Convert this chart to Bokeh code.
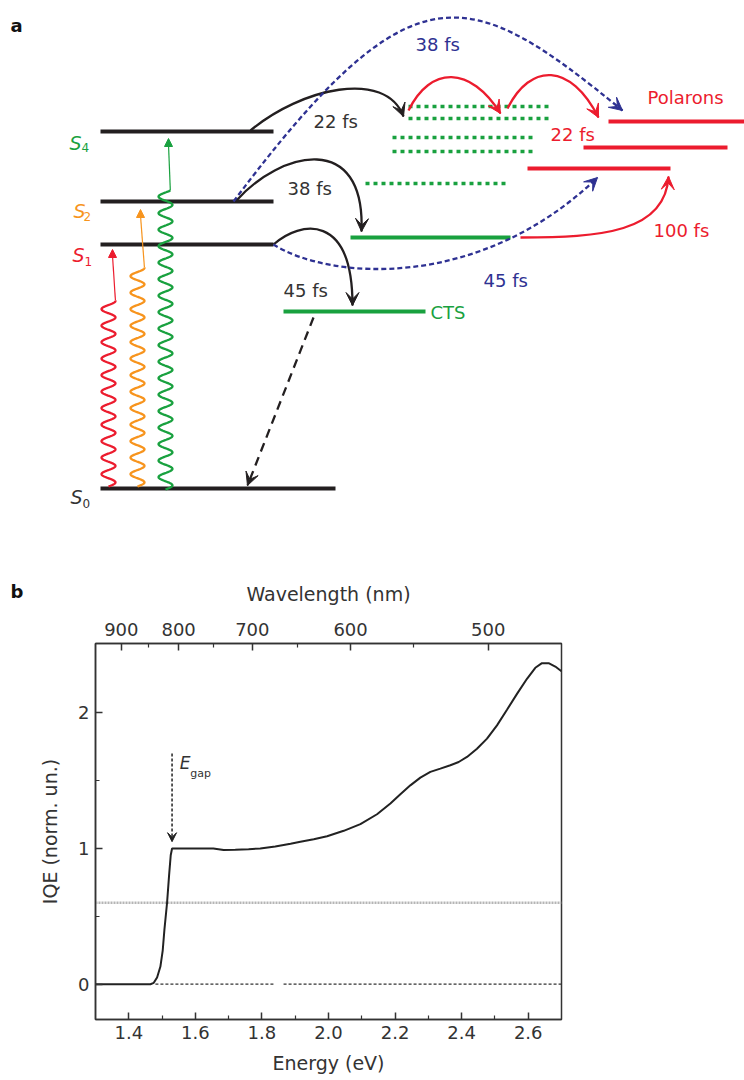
import numpy as np
from bokeh.plotting import figure
from bokeh.models import (Range1d, LinearAxis, FixedTicker, CustomJSTickFormatter,
                          Arrow, VeeHead, NormalHead)
from bokeh.core.properties import value
from bokeh.embed import file_html
from bokeh.resources import INLINE

FONT = "DejaVu Sans"
BLACK = "#231f20"
GREEN = "#19a13f"
RED = "#ec1c2e"
ORANGE = "#f7941d"
NAVY = "#2e3192"
TXT = "#333333"

# ---------------- Panel a: energy-level diagram (pixel units) ----------------
level_sub = ["0", "1", "2", "4"]
level_y = [488, 244, 201, 131]
level_x0 = [100, 100, 100, 100]
level_x1 = [335, 273, 273, 273]
level_colors = [TXT, RED, ORANGE, GREEN]

cts_y = [237, 311]
cts_x0 = [350, 283]
cts_x1 = [510, 425]

dot_rows_y = [106, 118, 137, 151, 183]
dot_rows_x0 = [408, 408, 392, 392, 365]
dot_rows_x1 = [548, 548, 535, 535, 507]

pol_y = [121, 147, 168]
pol_x0 = [608, 583, 527]
pol_x1 = [744, 727, 670]

# excitation (wavy) arrows: centre x, bottom y, wave top y, arrow tip x, tip y, colour
exc_cx = [108, 137, 165]
exc_yb = [486, 486, 489]
exc_yt = [300, 267, 190]
exc_tipx = [112, 140, 168]
exc_tipy = [249, 209, 138]
exc_col = [RED, ORANGE, GREEN]

# transfer arrows: start, control 0, control 1, end, colour, dash
tr_p0 = [(250, 130), (235, 201), (273, 244), (233, 201), (273, 244), (408, 110), (507, 108), (520, 237)]
tr_c0 = [(300, 88), (280, 150), (300, 220), (413, -39), (330, 280), (430, 65), (530, 62), (600, 237)]
tr_c1 = [(385, 68), (365, 130), (352, 212), (468, -16), (480, 290), (470, 65), (570, 62), (665, 232)]
tr_p3 = [(403, 116), (361, 231), (352, 305), (622, 110), (597, 177), (500, 113), (598, 117), (668, 176)]
tr_col = [BLACK, BLACK, BLACK, NAVY, NAVY, RED, RED, RED]
tr_dash = ["solid", "solid", "solid", "5 3", "5 3", "solid", "solid", "solid"]

# time labels
lab_text = ["22 fs", "38 fs", "45 fs", "38 fs", "45 fs", "22 fs", "100 fs", "Polarons", "CTS"]
lab_x = [313, 287, 283, 415, 483, 550, 653, 647, 430]
lab_y = [121, 188, 290, 44, 280, 134, 230, 97, 312]
lab_col = [TXT, TXT, TXT, NAVY, NAVY, RED, RED, RED, GREEN]

PA_H = 612
pa = figure(width=744, height=PA_H, x_range=Range1d(0, 744), y_range=Range1d(PA_H, 0),
            output_backend="svg", toolbar_location=None, min_border=0,
            x_axis_location=None, y_axis_location=None)
pa.grid.visible = False
pa.outline_line_color = None

# levels
for y, x0, x1 in zip(level_y, level_x0, level_x1):
    pa.line([x0, x1], [y, y], line_color=BLACK, line_width=4)
for y, x0, x1 in zip(cts_y, cts_x0, cts_x1):
    pa.line([x0, x1], [y, y], line_color=GREEN, line_width=4)
for y, x0, x1 in zip(dot_rows_y, dot_rows_x0, dot_rows_x1):
    pa.line([x0, x1], [y, y], line_color=GREEN, line_width=3.5, line_dash="4 4")
for y, x0, x1 in zip(pol_y, pol_x0, pol_x1):
    pa.line([x0, x1], [y, y], line_color=RED, line_width=4)

# wavy excitation arrows
for cx, yb, yt, tx, ty, c in zip(exc_cx, exc_yb, exc_yt, exc_tipx, exc_tipy, exc_col):
    ys = np.linspace(yb, yt, 500)
    xs = cx + 7 * np.sin(2 * np.pi * (yb - ys) / 16.5)
    pa.line(xs, ys, line_color=c, line_width=2.3)
    pa.line([xs[-1], tx], [yt, ty + 6], line_color=c, line_width=1.2)
    pa.add_layout(Arrow(x_start=tx, y_start=ty + 8, x_end=tx, y_end=ty, line_alpha=0,
                        end=NormalHead(size=8, fill_color=c, line_color=c)))

# transfer arrows
for p0, c0, c1, p3, c, d in zip(tr_p0, tr_c0, tr_c1, tr_p3, tr_col, tr_dash):
    pa.bezier(x0=[p0[0]], y0=[p0[1]], cx0=[c0[0]], cy0=[c0[1]], cx1=[c1[0]], cy1=[c1[1]],
              x1=[p3[0]], y1=[p3[1]], line_color=c, line_width=2.3, line_dash=d)
    tx, ty = p3[0] - c1[0], p3[1] - c1[1]
    n = (tx ** 2 + ty ** 2) ** 0.5
    pa.add_layout(Arrow(x_start=p3[0] - 6 * tx / n, y_start=p3[1] - 6 * ty / n,
                        x_end=p3[0], y_end=p3[1], line_alpha=0,
                        end=VeeHead(size=13, fill_color=c, line_color=c)))

# dashed decay of CTS to ground
cts_decay_x = [313, 247]
cts_decay_y = [317, 485]
pa.line(cts_decay_x, cts_decay_y, line_color=BLACK, line_width=2.3, line_dash="9 6")
pa.add_layout(Arrow(x_start=250, y_start=477, x_end=cts_decay_x[1], y_end=cts_decay_y[1],
                    line_alpha=0, end=VeeHead(size=13, fill_color=BLACK, line_color=BLACK)))

# level labels S_n
pa.text(x=[70, 72, 73, 69], y=[496, 254, 210, 142], text=["S"] * 4,
        text_color=level_colors, text_font=value(FONT), text_font_size="19px",
        text_font_style="italic", text_baseline="alphabetic", text_align="left")
pa.text(x=[82, 84, 83, 81], y=[503, 261, 216, 147], text=level_sub,
        text_color=level_colors, text_font=value(FONT), text_font_size="12px",
        text_baseline="alphabetic", text_align="left")

pa.text(x=lab_x, y=lab_y, text=lab_text, text_color=lab_col, text_font=value(FONT),
        text_font_size="18px", text_baseline="middle", text_align="left")
# panel letters and the top-axis title of panel b
pa.text(x=[10, 10], y=[25, 591], text=["a", "b"], text_color="#111111", text_font=value(FONT),
        text_font_size="18px", text_font_style="bold", text_baseline="middle")
pa.text(x=[328], y=[593], text=["Wavelength (nm)"], text_color=TXT, text_font=value(FONT),
        text_font_size="19px", text_baseline="middle", text_align="center")

# ---------------- Panel b: IQE spectrum ----------------
energy = [1.30, 1.40, 1.465, 1.475, 1.485, 1.495, 1.502, 1.507, 1.515, 1.521, 1.526, 1.53,
          1.60, 1.654, 1.685, 1.72, 1.76, 1.795, 1.84, 1.886,
          1.9156, 1.9557, 1.9957, 2.0457, 2.0958, 2.1458, 2.1859, 2.2159, 2.2459, 2.2760,
          2.3060, 2.3360, 2.3661, 2.3911, 2.4161, 2.4461, 2.4762, 2.5062, 2.5362, 2.5663,
          2.5963, 2.6213, 2.6413, 2.6613, 2.6814, 2.70]
iqe = [0, 0, 0, 0.01, 0.05, 0.13, 0.25, 0.40, 0.60, 0.80, 0.95, 1.0,
       1.0, 1.0, 0.988, 0.99, 0.995, 1.0, 1.015, 1.035,
       1.049, 1.068, 1.090, 1.130, 1.179, 1.252, 1.331, 1.399, 1.465, 1.522,
       1.564, 1.588, 1.613, 1.637, 1.674, 1.735, 1.809, 1.907, 2.022, 2.139,
       2.250, 2.331, 2.365, 2.365, 2.340, 2.305]
energy_ticks = [1.4, 1.6, 1.8, 2.0, 2.2, 2.4, 2.6]
energy_minor = [1.5, 1.7, 1.9, 2.1, 2.3, 2.5]
iqe_ticks = [0, 1, 2]
iqe_minor = [0.5, 1.5]
wl_major = [900, 800, 700, 600, 500]
wl_minor = [850, 750, 650, 550]
HC = 1239.84
zero_seg_x = [[1.48, 1.835], [1.865, 2.70]]
ref_level = 0.6
egap_x = 1.53
egap_y = [1.70, 1.05]

pb = figure(width=744, height=1080 - PA_H, x_range=Range1d(1.3, 2.7), y_range=Range1d(-0.26, 2.51),
            output_backend="svg", toolbar_location=None,
            min_border_left=95, min_border_right=183, min_border_top=31, min_border_bottom=61)
pb.grid.visible = False
pb.outline_line_color = "#333333"
pb.outline_line_width = 1.5

def style_axis(ax):
    ax.axis_line_color = "#333333"
    ax.axis_line_width = 1.5
    ax.major_tick_line_color = "#333333"
    ax.minor_tick_line_color = "#333333"
    ax.major_tick_line_width = 1.5
    ax.minor_tick_line_width = 1.2
    ax.major_tick_in = 7
    ax.major_tick_out = 0
    ax.minor_tick_in = 4
    ax.minor_tick_out = 0
    ax.major_label_text_font = FONT
    ax.major_label_text_font_size = "18px"
    ax.major_label_text_color = TXT
    ax.axis_label_text_font = FONT
    ax.axis_label_text_font_size = "19px"
    ax.axis_label_text_font_style = "normal"
    ax.axis_label_text_color = TXT

xa = pb.xaxis[0]
xa.ticker = FixedTicker(ticks=energy_ticks, minor_ticks=energy_minor)
xa.formatter = CustomJSTickFormatter(code="return tick.toFixed(1);")
xa.axis_label = "Energy (eV)"
style_axis(xa)
xa.major_label_standoff = 6
xa.axis_label_standoff = 10

ya = pb.yaxis[0]
ya.ticker = FixedTicker(ticks=iqe_ticks, minor_ticks=iqe_minor)
ya.axis_label = "IQE (norm. un.)"
style_axis(ya)
ya.major_label_standoff = 6
ya.axis_label_standoff = 14

ta = LinearAxis(ticker=FixedTicker(ticks=[HC / w for w in wl_major],
                                   minor_ticks=[HC / w for w in wl_minor]),
                formatter=CustomJSTickFormatter(code="return (Math.round(1239.84/tick/100)*100).toString();"))
style_axis(ta)
ta.major_label_standoff = 8
pb.add_layout(ta, "above")

pb.line([1.3, 2.7], [ref_level, ref_level], line_color="#b5b5b5", line_width=2.5, line_dash="2 1")
for seg in zero_seg_x:
    pb.line(seg, [0, 0], line_color="#333333", line_width=1.2, line_dash="3 2")
pb.line([egap_x, egap_x], [egap_y[0], egap_y[1] + 0.04], line_color="#222222", line_width=1.5, line_dash="3 2")
pb.add_layout(Arrow(x_start=egap_x, y_start=egap_y[1] + 0.06, x_end=egap_x, y_end=egap_y[1],
                    line_alpha=0, end=VeeHead(size=9, fill_color="#222222", line_color="#222222")))
pb.text(x=[1.553], y=[1.63], text=["E"], text_font=value(FONT), text_font_size="17px",
        text_font_style="italic", text_color=TXT, text_baseline="middle")
pb.text(x=[1.585], y=[1.555], text=["gap"], text_font=value(FONT), text_font_size="11px",
        text_color=TXT, text_baseline="middle")
pb.line(energy, iqe, line_color="#222222", line_width=2)

open("out.html", "w").write(file_html([pa, pb], INLINE))
